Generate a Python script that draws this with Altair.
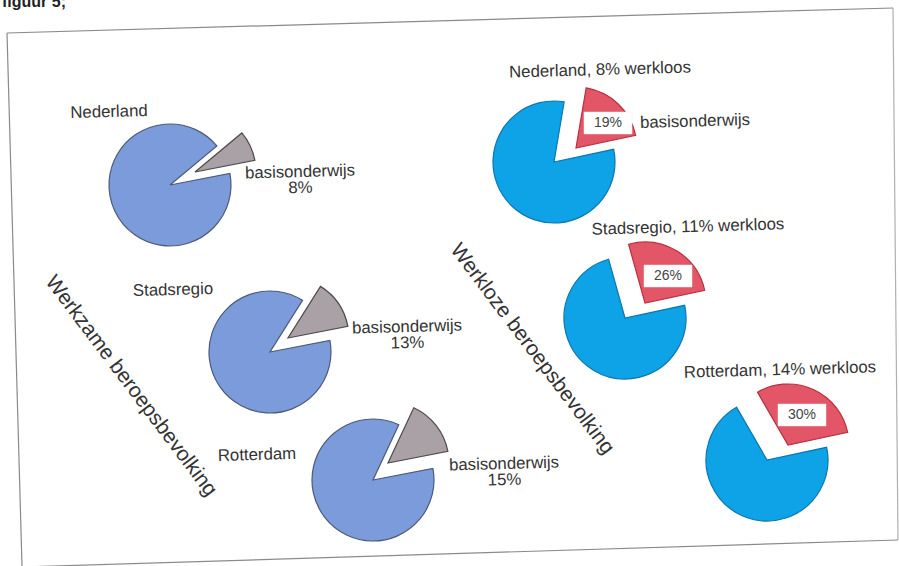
import math
import altair as alt
import pandas as pd

# ---------------- data ----------------
REGIONS = ["Nederland", "Stadsregio", "Rotterdam"]
WERKZAAM_BASIS = [8, 13, 15]      # % basisonderwijs, werkzame beroepsbevolking
WERKLOOS_RATE = [8, 11, 14]       # % werkloos
WERKLOOS_BASIS = [19, 26, 30]     # % basisonderwijs, werkloze beroepsbevolking
SLICE_NAME = "basisonderwijs"
LEFT_TITLE = "Werkzame beroepsbevolking"
RIGHT_TITLE = "Werkloze beroepsbevolking"
FIG_LABEL = "figuur 5;"

# ---------------- layout / style ----------------
W, H = 899, 566
FONT = "Liberation Sans"
TXT = "#333333"
TILT = 358.4
LBL_SIZE = 16.8
RADIUS = 61
LEFT_CENTERS = [(170, 185), (270, 352), (373, 480)]
RIGHT_CENTERS = [(554, 162), (625, 318), (767, 460)]
LEFT_EXPLODE = [(25, -13), (18, -14), (15, -17)]
RIGHT_EXPLODE = [(22, -14), (20, -15), (21, -15)]
LEFT_NAME_POS = [(109, 112), (173, 290), (257, 455)]
LEFT_SLICE_LBL = [(300, 172), (407, 327), (504, 464)]
RIGHT_TITLE_POS = [(600, 70), (688, 227), (780, 370)]
BOX_POS = [(608, 123), (668, 276), (802, 415)]
BOX_W, BOX_H = 48, 22

LEFT_MAIN, LEFT_MAIN_STROKE = "#7b9bdb", "#4d5a78"
LEFT_SLICE, LEFT_SLICE_STROKE = "#a9a1a6", "#4d4a4c"
RIGHT_MAIN, RIGHT_MAIN_STROKE = "#0ea2e6", "#0a78b0"
RIGHT_SLICE, RIGHT_SLICE_STROKE = "#e35668", "#b8303f"


def pie_layers(share, center, explode, end_deg, cols):
    main_c, main_s, sl_c, sl_s = cols
    df = pd.DataFrame({"cat": [SLICE_NAME, "overig"], "value": [share, 100 - share]})
    df["t1"] = df["value"].cumsum()
    df["t0"] = df["t1"] - df["value"]
    start = math.radians(end_deg - share * 3.6)
    scale = alt.Scale(domain=[0, 100], range=[start, start + 2 * math.pi])
    base = alt.Chart(df)
    main = base.transform_filter(alt.datum.cat == "overig").mark_arc(
        radius=RADIUS, fill=main_c, stroke=main_s, strokeWidth=1.2
    ).encode(
        theta=alt.Theta("t0:Q", scale=scale, stack=None),
        theta2="t1:Q",
        x=alt.value(center[0]),
        y=alt.value(center[1]),
    )
    sl = base.transform_filter(alt.datum.cat == SLICE_NAME).mark_arc(
        radius=RADIUS, fill=sl_c, stroke=sl_s, strokeWidth=1.2
    ).encode(
        theta=alt.Theta("t0:Q", scale=scale, stack=None),
        theta2="t1:Q",
        x=alt.value(center[0] + explode[0]),
        y=alt.value(center[1] + explode[1]),
    )
    return [main, sl]


def text_layer(txt, pos, size=LBL_SIZE, angle=TILT, align="center", weight="normal", color=TXT,
               baseline="middle", line_height=17):
    return alt.Chart(pd.DataFrame({"t": [txt]})).mark_text(
        font=FONT, fontSize=size, angle=angle, align=align, baseline=baseline,
        fontWeight=weight, color=color, lineHeight=line_height
    ).encode(x=alt.value(pos[0]), y=alt.value(pos[1]), text="t")


def line_layer(p0, p1, color="#8a8a8a", width=1.2):
    return alt.Chart(pd.DataFrame({"d": [0]})).mark_rule(color=color, strokeWidth=width).encode(
        x=alt.value(p0[0]), y=alt.value(p0[1]), x2=alt.value(p1[0]), y2=alt.value(p1[1])
    )


layers = []
# frame
layers += [
    line_layer((7, 33), (893, 8)),
    line_layer((7, 33), (22, 566)),
    line_layer((893, 8), (898, 540), color="#b0b0b0"),
    line_layer((22, 567), (898, 540)),
]
layers.append(text_layer(FIG_LABEL, (2, 7), size=16, angle=0, align="left", weight="bold",
                         color="#222", baseline="alphabetic"))

# left pies
for i, region in enumerate(REGIONS):
    p = WERKZAAM_BASIS[i]
    layers += pie_layers(p, LEFT_CENTERS[i], LEFT_EXPLODE[i], 79,
                         (LEFT_MAIN, LEFT_MAIN_STROKE, LEFT_SLICE, LEFT_SLICE_STROKE))
    layers.append(text_layer(region, LEFT_NAME_POS[i]))
    layers.append(text_layer([SLICE_NAME, f"{p}%"], LEFT_SLICE_LBL[i], line_height=16))

# right pies
for i, region in enumerate(REGIONS):
    p = WERKLOOS_BASIS[i]
    layers += pie_layers(p, RIGHT_CENTERS[i], RIGHT_EXPLODE[i], 78,
                         (RIGHT_MAIN, RIGHT_MAIN_STROKE, RIGHT_SLICE, RIGHT_SLICE_STROKE))
    layers.append(text_layer(f"{region}, {WERKLOOS_RATE[i]}% werkloos", RIGHT_TITLE_POS[i]))
    bx, by = BOX_POS[i]
    layers.append(
        alt.Chart(pd.DataFrame({"d": [0]})).mark_rect(fill="white", stroke="#e8e8e8", strokeWidth=0.5).encode(
            x=alt.value(bx - BOX_W / 2), x2=alt.value(bx + BOX_W / 2),
            y=alt.value(by - BOX_H / 2), y2=alt.value(by + BOX_H / 2)
        )
    )
    layers.append(text_layer(f"{p}%", (bx, by), size=14, angle=0, color="#444"))
    if i == 0:
        layers.append(text_layer(SLICE_NAME, (bx + 32, by), align="left"))

# rotated group titles
layers.append(text_layer(LEFT_TITLE, (131, 386), size=21, angle=53))
layers.append(text_layer(RIGHT_TITLE, (532, 349), size=21, angle=53))

chart = alt.layer(*layers).resolve_scale(theta="independent").properties(
    width=W, height=H, padding=0, autosize=alt.AutoSizeParams(type="none"),
    background="white"
).configure_view(stroke=None)

chart.save("out.html", embed_options={"renderer": "svg", "actions": False})
